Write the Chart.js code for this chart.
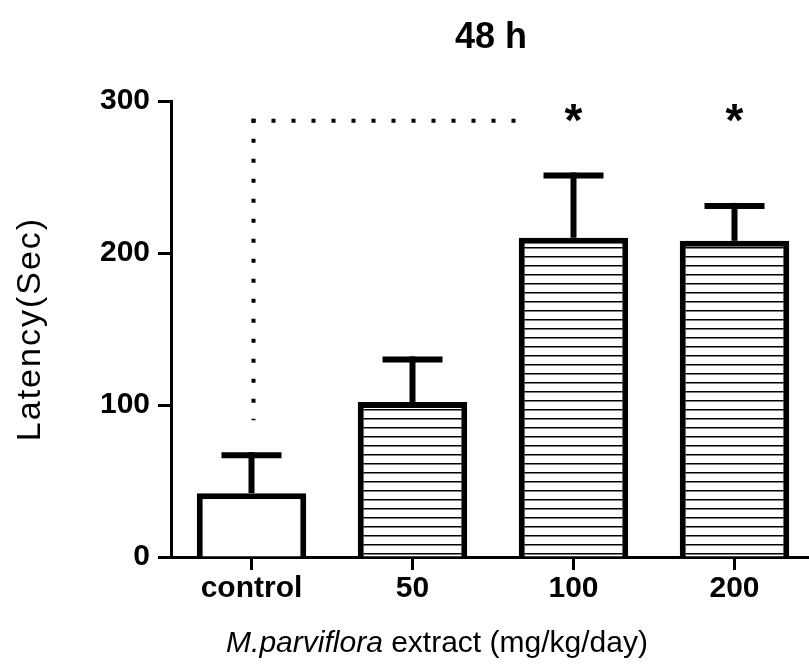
<!DOCTYPE html>
<html><head><meta charset="utf-8">
<script src="https://cdn.jsdelivr.net/npm/chart.js@4"></script>
<style>html,body{margin:0;padding:0;background:#fff;overflow:hidden}canvas{display:block}</style>
</head><body>
<canvas id="c" width="815" height="664"></canvas>
<script>
// ---- data ----
const categories = ['control', '50', '100', '200'];
const means = [42, 102, 210, 208];
const errors = [25, 28, 41, 23];
const hatched = [false, true, true, true];
const significant = [false, false, true, true];
const yTicks = [0, 100, 200, 300];
const bracketTop = 287;      // value of dotted horizontal
const bracketBottom = 90;    // value where vertical dotted line ends
const bracketEndIndex = 1.65; // category position where horizontal ends
const starValue = 298;
const titleText = '48 h';
const yTitleText = 'Latency(Sec)';
const xTitleItalic = 'M.parviflora';
const xTitleRest = ' extract (mg/kg/day)';

const FONT = '"Liberation Sans", Arial, sans-serif';
const canvas = document.getElementById('c');
const ctx = canvas.getContext('2d');

function makeHatch() {
  const p = document.createElement('canvas');
  p.width = 9; p.height = 9;
  const g = p.getContext('2d');
  g.fillStyle = '#fff'; g.fillRect(0, 0, 9, 9);
  g.fillStyle = '#000'; g.fillRect(0, 4, 9, 1.5);
  return ctx.createPattern(p, 'repeat');
}
const pat = makeHatch();

const overlay = {
  id: 'overlay',
  afterDatasetsDraw(chart) {
    const c = chart.ctx, xs = chart.scales.x, ys = chart.scales.y;
    const area = chart.chartArea;
    c.save();
    // error bars
    c.strokeStyle = '#000';
    c.lineWidth = 6;
    c.lineCap = 'butt';
    means.forEach((m, i) => {
      const x = xs.getPixelForValue(i);
      const y0 = ys.getPixelForValue(m);
      const y1 = ys.getPixelForValue(m + errors[i]);
      c.beginPath(); c.moveTo(x, y0); c.lineTo(x, y1 - 3); c.stroke();
      c.beginPath(); c.moveTo(x - 30, y1); c.lineTo(x + 30, y1); c.stroke();
    });
    // dotted bracket
    const bx = xs.getPixelForValue(0) + 2;
    const step = xs.getPixelForValue(1) - xs.getPixelForValue(0);
    const by = ys.getPixelForValue(bracketTop);
    c.lineWidth = 4;
    c.setLineDash([4, 16]);
    c.beginPath(); c.moveTo(bx, by - 2); c.lineTo(bx, ys.getPixelForValue(bracketBottom)); c.stroke();
    c.beginPath(); c.moveTo(bx - 2, by); c.lineTo(xs.getPixelForValue(0) + bracketEndIndex * step, by); c.stroke();
    c.setLineDash([]);
    // stars
    c.fillStyle = '#000';
    c.font = 'bold 46px ' + FONT;
    c.textAlign = 'center';
    c.textBaseline = 'alphabetic';
    const asc = c.measureText('*').actualBoundingBoxAscent;
    significant.forEach((s, i) => {
      if (!s) return;
      c.fillText('*', xs.getPixelForValue(i), ys.getPixelForValue(starValue) + asc);
    });
    // title
    c.font = 'bold 36px ' + FONT;
    c.fillText(titleText, (area.left + area.right) / 2 - 2, 48);
    // y title
    c.save();
    c.translate(40, (area.top + area.bottom) / 2);
    c.rotate(-Math.PI / 2);
    c.font = '34px ' + FONT;
    c.letterSpacing = '2px';
    c.fillText(yTitleText, 0, 0);
    c.restore();
    // x title
    c.textAlign = 'left';
    c.font = 'italic 30px ' + FONT;
    const w1 = c.measureText(xTitleItalic).width;
    c.font = '30px ' + FONT;
    const w2 = c.measureText(xTitleRest).width;
    const start = 437 - (w1 + w2) / 2;
    c.font = 'italic 30px ' + FONT;
    c.fillText(xTitleItalic, start, 652);
    c.font = '30px ' + FONT;
    c.fillText(xTitleRest, start + w1, 652);
    c.restore();
  }
};

new Chart(ctx, {
  type: 'bar',
  data: {
    labels: categories,
    datasets: [{
      data: means,
      backgroundColor: hatched.map(h => h ? pat : '#fff'),
      borderColor: '#000',
      borderWidth: 6,
      borderSkipped: 'bottom',
      categoryPercentage: 1,
      barPercentage: 0.68
    }]
  },
  options: {
    responsive: false,
    animation: false,
    devicePixelRatio: 1,
    layout: { padding: { top: 101, left: 0, right: 0, bottom: 0 } },
    plugins: { legend: { display: false }, tooltip: { enabled: false }, title: { display: false } },
    scales: {
      x: {
        grid: { display: true, drawOnChartArea: false, offset: false, tickLength: 13, tickWidth: 3, color: '#000' },
        border: { display: true, color: '#000', width: 3 },
        ticks: { color: '#000', font: { family: FONT, weight: 'bold', size: 30 }, padding: 1, maxRotation: 0 },
        afterFit(s) { s.height = 107; }
      },
      y: {
        min: 0, max: 300,
        afterBuildTicks(s) { s.ticks = yTicks.map(v => ({ value: v })); },
        grid: { drawOnChartArea: false, tickLength: 13, tickWidth: 3, color: '#000' },
        border: { color: '#000', width: 3 },
        ticks: { color: '#000', font: { family: FONT, weight: 'bold', size: 30 }, padding: 8 },
        afterFit(s) { s.width = 171; }
      }
    }
  },
  plugins: [overlay]
});
</script>
</body></html>
